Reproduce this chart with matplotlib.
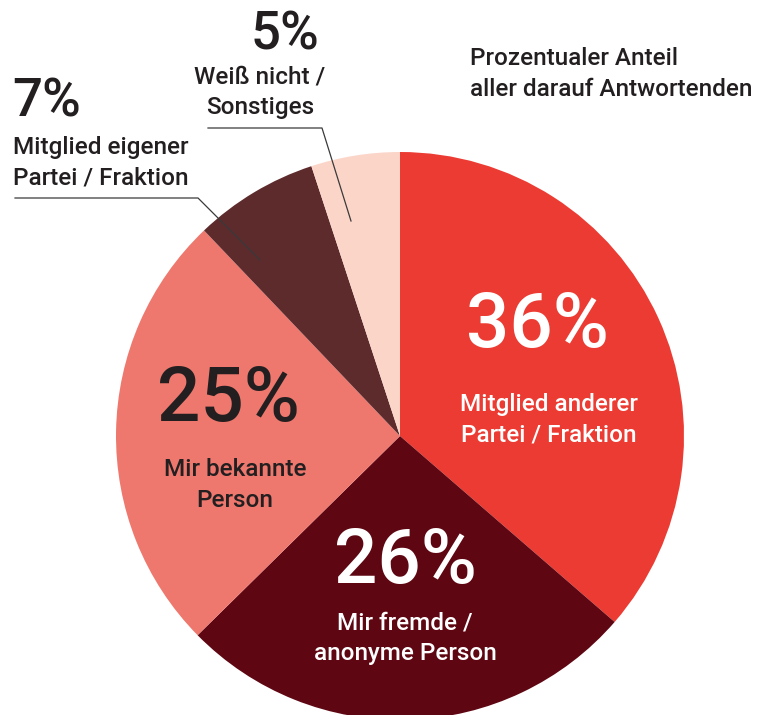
import matplotlib
matplotlib.use("Agg")
import matplotlib.pyplot as plt

categories = ["Mitglied anderer\nPartei / Fraktion", "Mir fremde /\nanonyme Person",
              "Mir bekannte\nPerson", "Mitglied eigener\nPartei / Fraktion",
              "Weiß nicht /\nSonstiges"]
values = [36, 26, 25, 7, 5]
colors = ["#EC3B32", "#5E0611", "#EE786E", "#5E2B2D", "#FBD5C8"]
title_text = "Prozentualer Anteil\naller darauf Antwortenden"

W, H = 769, 715
plt.rcParams['font.family'] = ['Roboto', 'DejaVu Sans']
fig = plt.figure(figsize=(W / 100, H / 100), dpi=100)
ax = fig.add_axes([0, 0, 1, 1])

def Y(py):
    return H - py

ax.pie(values, colors=colors, startangle=90, counterclock=False,
       center=(400, Y(436)), radius=284, frame=True,
       wedgeprops=dict(linewidth=0))
ax.set_xlim(0, W)
ax.set_ylim(0, H)
ax.set_aspect('equal')
ax.axis('off')

dark = "#231F20"
big = 55
mid = 38
small = 17.5
ls = 1.4
lw_txt = 'medium'

# 36%
ax.text(537, Y(326), f"{values[0]}%", color="white", fontsize=big, fontweight='medium',
        ha='center', va='center')
ax.text(549, Y(420), categories[0], color="white", fontsize=small, fontweight=lw_txt,
        ha='center', va='center', linespacing=ls)
# 26%
ax.text(405, Y(562), f"{values[1]}%", color="white", fontsize=big, fontweight='medium',
        ha='center', va='center')
ax.text(405, Y(638), categories[1], color="white", fontsize=small, fontweight=lw_txt,
        ha='center', va='center', linespacing=ls)
# 25%
ax.text(228, Y(401), f"{values[2]}%", color=dark, fontsize=big, fontweight='medium',
        ha='center', va='center')
ax.text(235, Y(485), categories[2], color=dark, fontsize=small, fontweight=lw_txt,
        ha='center', va='center', linespacing=ls)
# 7%
ax.text(12, Y(102), f"{values[3]}%", color=dark, fontsize=mid, fontweight='medium',
        ha='left', va='center')
ax.text(13, Y(163), categories[3], color=dark, fontsize=small, fontweight=lw_txt,
        ha='left', va='center', linespacing=ls)
# 5%
ax.text(285, Y(35), f"{values[4]}%", color=dark, fontsize=mid, fontweight='medium',
        ha='center', va='center')
ax.text(260, Y(92), categories[4], color=dark, fontsize=small, fontweight=lw_txt,
        ha='center', va='center', linespacing=ls)

# title
ax.text(470, Y(74), title_text, color=dark, fontsize=small, fontweight=lw_txt,
        ha='left', va='center', linespacing=ls)

# leader lines
lc = "#3a3a3a"
ax.plot([15, 198, 260], [Y(198), Y(198), Y(260)], color=lc, lw=0.9)
ax.plot([208, 322, 351], [Y(128), Y(128), Y(221)], color=lc, lw=0.9)

fig.savefig("out.png", dpi=100)
